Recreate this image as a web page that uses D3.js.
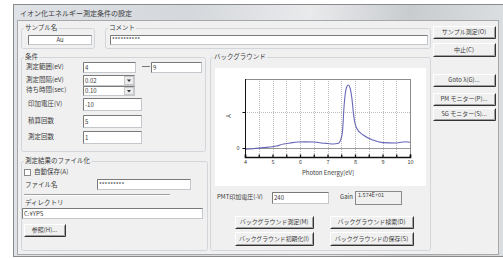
<!DOCTYPE html>
<html>
<meta charset="utf-8">
<head>
<style>
body { margin: 0; background: #fff; }
svg text { font-family: "Noto Sans CJK JP", "DejaVu Sans", sans-serif; font-size: 6.5px; fill: #3c3c3c; }
.grid line { stroke: #bdbdbd; stroke-dasharray: 1,1; }
</style>
</head>
<body>
<svg width="503" height="259"></svg>

<script src="https://cdn.jsdelivr.net/npm/d3@7"></script>
<script>

// background spectrum
var energy = [4.0, 4.3, 4.65, 5.0, 5.15, 5.4, 5.65, 5.9, 6.2, 6.5, 6.9, 7.0, 7.2, 7.4, 7.5, 7.55, 7.6, 7.7, 7.76, 7.82, 7.88, 7.96, 8.06, 8.3, 8.65, 9.0, 9.5, 9.85, 10.0];
var signal = [-0.036, -0.02, 0.01, 0.035, 0.055, 0.11, 0.14, 0.165, 0.17, 0.165, 0.13, 0.125, 0.11, 0.13, 0.28, 0.5, 1.14, 1.7, 1.75, 1.67, 1.42, 0.86, 0.55, 0.36, 0.22, 0.15, 0.14, 0.175, 0.16];
var xTicks = [4, 4.5, 5, 5.5, 6, 6.5, 7, 7.5, 8, 8.5, 9, 9.5, 10];
var yTicks = [0, 1];

// form fields
var condLabels = ["測定範囲(eV)", "測定間隔(eV)", "待ち時間(sec)", "印加電圧(V)", "積算回数", "測定回数"];
var condValues = ["4", "0.02", "0.10", "-10", "5", "1"];
var rightButtons = ["サンプル測定(O)", "中止(C)", "Goto λ(G)...", "PM モニター(P)...", "SG モニター(S)..."];
var bgButtons = ["バックグラウンド測定(M)", "バックグラウンド検索(D)", "バックグラウンド初期化(I)", "バックグラウンドの保存(S)"];

var svg = d3.select("svg");

// title bar gradient
var defs = svg.append("defs");
var grad = defs.append("linearGradient").attr("id", "tb");
[["0", "#dfe2e6"], ["0.35", "#d4d7db"], ["0.6", "#e9eaec"], ["0.8", "#c9cccf"], ["1", "#dcdfe2"]].forEach(function(s) {
  grad.append("stop").attr("offset", s[0]).attr("stop-color", s[1]);
});

// window frame
svg.append("rect").attr("x", 13.5).attr("y", 4.5).attr("width", 495).attr("height", 252)
    .attr("fill", "url(#tb)").attr("stroke", "#8a8a8a");
svg.append("rect").attr("x", 17.5).attr("y", 20.5).attr("width", 481).attr("height", 234)
    .attr("fill", "#f0f0f0").attr("stroke", "#a8a8a8");
svg.append("text").attr("x", 20).attr("y", 15.5).style("font-size", 7).text("イオン化エネルギー測定条件の設定");

function label(x, y, t, size) {
  return svg.append("text").attr("x", x).attr("y", y + 2.3).style("font-size", size || 6.5).text(t);
}

function group(x, y, w, h, t) {
  svg.append("rect").attr("x", x + 0.5).attr("y", y + 0.5).attr("width", w).attr("height", h)
      .attr("fill", "none").attr("stroke", "#d2d6da").attr("rx", 2);
  var tl = label(x + 4, y, t);
  var bb = tl.node().getBBox();
  svg.insert("rect", function() { return tl.node(); })
      .attr("x", bb.x - 1).attr("y", y - 2).attr("width", bb.width + 2).attr("height", 5)
      .attr("fill", "#f0f0f0");
}

function input(x, y, w, h, t, bg) {
  svg.append("rect").attr("x", x + 0.5).attr("y", y + 0.5).attr("width", w).attr("height", h)
      .attr("fill", bg || "#fff").attr("stroke", "#c4c8cc");
  svg.append("path").attr("d", "M" + (x + 0.5) + "," + (y + h + 0.5) + "V" + (y + 0.5) + "H" + (x + w + 0.5))
      .attr("fill", "none").attr("stroke", "#7a7a7a");
  if (t != null) label(x + 2, y + h / 2 + 0.3, t, 6);
}

function select(x, y, w, h, t) {
  input(x, y, w, h, t);
  svg.append("rect").attr("x", x + w - 9.5).attr("y", y + 1.5).attr("width", 9).attr("height", h - 2)
      .attr("fill", "#ececec").attr("stroke", "#c8c8c8");
  svg.append("path").attr("d", "M" + (x + w - 7) + "," + (y + h / 2 - 0.5) + "h4l-2,2.5z").attr("fill", "#333");
}

function button(x, y, w, h, t) {
  svg.append("rect").attr("x", x + 0.5).attr("y", y + 0.5).attr("width", w).attr("height", h)
      .attr("fill", "#f0f0f0").attr("stroke", "#fff");
  svg.append("path").attr("d", "M" + (x + 0.5) + "," + (y + h + 0.5) + "H" + (x + w + 0.5) + "V" + (y + 0.5))
      .attr("fill", "none").attr("stroke", "#333");
  svg.append("path").attr("d", "M" + (x + 1.5) + "," + (y + h - 0.5) + "H" + (x + w - 0.5) + "V" + (y + 1.5))
      .attr("fill", "none").attr("stroke", "#a0a0a0");
  var tt = svg.append("text").attr("x", x + w / 2).attr("y", y + h / 2 + 2.2)
      .attr("text-anchor", "middle").style("font-size", 6).text(t);
  var tw = tt.node().getComputedTextLength();
  if (tw > w - 8) tt.attr("textLength", w - 8).attr("lengthAdjust", "spacingAndGlyphs");
}

// sample / comment
group(21, 28, 73, 20, "サンプル名");
input(28, 35, 63, 9, null);
svg.append("text").attr("x", 60).attr("y", 41.5).attr("text-anchor", "middle").style("font-size", 6).text("Au");
group(105, 28, 325, 20, "コメント");
input(110, 35, 317, 9, "**********");

// right column buttons
var rbY = [26, 43, 74, 93, 108];
rightButtons.forEach(function(t, i) { button(433, rbY[i], 62, i == 1 ? 13 : 12, t); });

// 条件
group(21, 57, 184, 94, "条件");
var rowY = [67, 80, 90, 104, 121, 137];
condLabels.forEach(function(t, i) { label(i < 3 ? 26 : 28, rowY[i], t); });
input(83, 62, 52, 10, condValues[0]);
svg.append("line").attr("x1", 142).attr("x2", 150).attr("y1", 66.5).attr("y2", 66.5).attr("stroke", "#777");
input(151, 62, 50, 10, "9");
select(83, 75, 51, 10, condValues[1]);
select(83, 86, 51, 9, condValues[2]);
input(83, 98, 58, 12, condValues[3]);
input(83, 115, 58, 12, condValues[4]);
input(83, 131, 58, 12, condValues[5]);

// 測定結果のファイル化
group(21, 161, 186, 89, "測定結果のファイル化");
svg.append("rect").attr("x", 24.5).attr("y", 169.5).attr("width", 6).attr("height", 6)
    .attr("fill", "#fff").attr("stroke", "#8a8a8a");
label(34, 172, "自動保存(A)");
label(25, 185, "ファイル名");
input(97, 179, 93, 10, "*********");
svg.append("line").attr("x1", 24).attr("x2", 170).attr("y1", 194.5).attr("y2", 194.5).attr("stroke", "#a0a0a0");
svg.append("line").attr("x1", 24).attr("x2", 170).attr("y1", 195.5).attr("y2", 195.5).attr("stroke", "#fff");
label(25, 203, "ディレクトリ");
input(22, 208, 180, 10, "C:¥YPS");
button(24, 224, 41, 12, "参照(H)...");

// バックグラウンド
group(210, 57, 220, 193, "バックグラウンド");
svg.append("rect").attr("x", 215).attr("y", 68).attr("width", 211).attr("height", 118).attr("fill", "#fff");

var x = d3.scaleLinear().domain([4, 10]).range([245, 410]);
var y = d3.scaleLinear().domain([-0.25, 1.9167]).range([157, 79]);

var plot = svg.append("g");

plot.append("g").attr("class", "grid")
  .selectAll("line").data(xTicks.slice(1, -1)).enter().append("line")
    .attr("x1", function(d) { return Math.round(x(d)) + 0.5; })
    .attr("x2", function(d) { return Math.round(x(d)) + 0.5; })
    .attr("y1", y.range()[1]).attr("y2", y.range()[0]);
plot.append("line")
    .attr("x1", x(4)).attr("x2", x(10)).attr("y1", Math.round(y(1)) + 0.5).attr("y2", Math.round(y(1)) + 0.5)
    .attr("stroke", "#bdbdbd").attr("stroke-dasharray", "1,1");
plot.append("line")
    .attr("x1", x(4)).attr("x2", x(10)).attr("y1", Math.round(y(0)) + 0.5).attr("y2", Math.round(y(0)) + 0.5)
    .attr("stroke", "#9a9a9a");

// frame
plot.append("rect").attr("x", x(4) + 0.5).attr("y", y.range()[1] + 0.5)
    .attr("width", x(10) - x(4)).attr("height", y.range()[0] - y.range()[1])
    .attr("fill", "none").attr("stroke", "#8c8c8c");

var line = d3.line()
    .x(function(d, i) { return x(energy[i]); })
    .y(function(d) { return y(d); })
    .curve(d3.curveMonotoneX);
plot.append("path").datum(signal).attr("d", line)
    .attr("fill", "none").attr("stroke", "#6666b8").attr("stroke-width", 1.1);

var xAxis = d3.axisBottom(x).tickValues(xTicks).tickSize(-2.5).tickPadding(3)
    .tickFormat(function(d) { return d % 1 === 0 ? d : ""; });
var gx = plot.append("g").attr("transform", "translate(0," + y.range()[0] + ")").call(xAxis);
gx.select(".domain").attr("stroke", "#111").attr("stroke-width", 1.6);
gx.selectAll(".tick line").attr("stroke", "#111").attr("stroke-width", 1.3);
gx.selectAll(".tick text").style("font-size", 5.5).attr("font-family", null);

var yAxis = d3.axisLeft(y).tickValues(yTicks).tickSize(3).tickPadding(3)
    .tickFormat(function(d) { return d === 0 ? "0" : ""; });
var gy = plot.append("g").attr("transform", "translate(" + (x(4) + 0.5) + ",0)").call(yAxis);
gy.select(".domain").attr("stroke", "#111").attr("d", "M0," + y.range()[1] + "V" + y.range()[0]);
gy.selectAll(".tick line").attr("stroke", "#111");
gy.selectAll(".tick text").style("font-size", 5.5).attr("font-family", null);

plot.append("text").attr("transform", "translate(231,116) rotate(-90)")
    .attr("text-anchor", "middle").style("font-size", 6).text("A");
plot.append("text").attr("x", 328).attr("y", 175).attr("text-anchor", "middle")
    .style("font-size", 6).text("Photon Energy[eV]");

label(217, 197, "PMT印加電圧(-V)", 6);
input(272, 192, 56, 11, "240");
label(340, 197, "Gain", 6);
svg.append("rect").attr("x", 355.5).attr("y", 191.5).attr("width", 46).attr("height", 13)
    .attr("fill", "#f0f0f0").attr("stroke", "#8a8a8a");
svg.append("text").attr("x", 358).attr("y", 197).style("font-size", 5.5).text("1.574E+01");

button(235, 216, 78, 12, bgButtons[0]);
button(330, 216, 83, 12, bgButtons[1]);
button(235, 232, 78, 13, bgButtons[2]);
button(330, 232, 83, 13, bgButtons[3]);

</script>
</body>
</html>
